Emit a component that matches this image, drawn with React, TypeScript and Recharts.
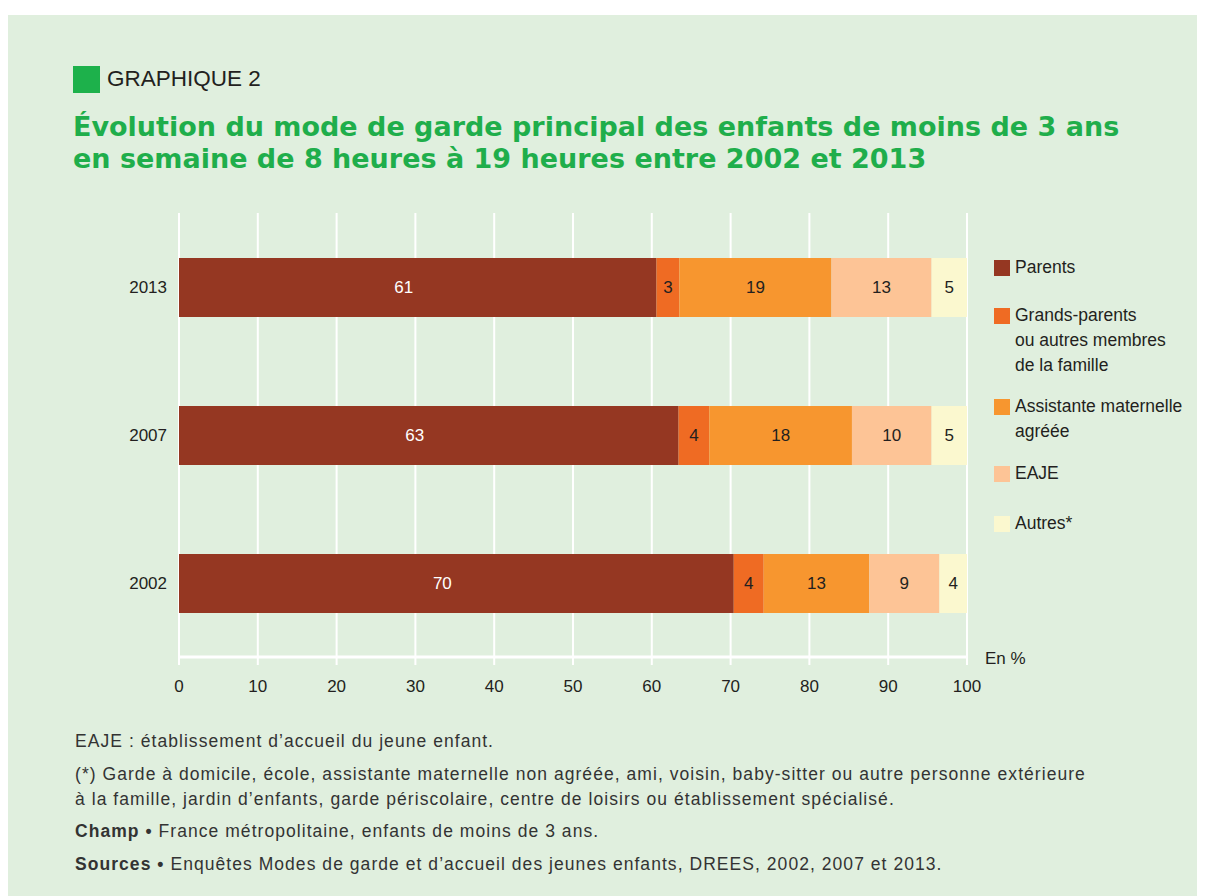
import React from "react"
import {
  BarChart,
  Bar,
  XAxis,
  YAxis,
  CartesianGrid,
  LabelList,
  ReferenceLine,
} from "recharts"

const years = ["2013", "2007", "2002"]
const parents = [60.6, 63.4, 70.4]
const grandsParents = [2.9, 3.9, 3.8]
const assistante = [19.3, 18.1, 13.4]
const eaje = [12.7, 10.1, 8.9]
const autres = [4.5, 4.5, 3.5]
const xTicks = [0, 10, 20, 30, 40, 50, 60, 70, 80, 90, 100]
const edgeTicks = [0, 1, 2, 3]

const series = [
  { key: "parents", lines: ["Parents"], color: "#953722", text: "#ffffff", shift: -14, values: parents },
  { key: "grands", lines: ["Grands-parents", "ou autres membres", "de la famille"], color: "#ef6b23", text: "#231f20", shift: 0, values: grandsParents },
  { key: "assistante", lines: ["Assistante maternelle", "agréée"], color: "#f7962f", text: "#231f20", shift: 0, values: assistante },
  { key: "eaje", lines: ["EAJE"], color: "#fdc496", text: "#231f20", shift: 0, values: eaje },
  { key: "autres", lines: ["Autres*"], color: "#fbf8cf", text: "#231f20", shift: 0, values: autres },
]

const data = years.map((year, i) => {
  const row: Record<string, any> = { year }
  series.forEach((s) => (row[s.key] = s.values[i]))
  return row
})

const font = "'Liberation Sans', Arial, sans-serif"
const dark = "#231f20"
const green = "#1fae4b"

const makeLabel = (fill: string, shift: number) => (props: any) => {
  const vb = props.viewBox ?? props
  const x = Number(vb.x)
  const y = Number(vb.y)
  const w = Number(vb.width)
  const h = Number(vb.height)
  return (
    <text
      x={x + w / 2 + shift}
      y={y + h / 2}
      fill={fill}
      fontSize={17}
      fontFamily={font}
      textAnchor="middle"
      dominantBaseline="central"
    >
      {Math.round(Number(props.value))}
    </text>
  )
}

// legend rows: top of the square, line height 25
const legendTops = [245, 293, 384, 451, 501]

export default function App() {
  return (
    <div style={{ paddingTop: 7 }}>
      <style>{"html,body{overflow:hidden}"}</style>
      <div
        style={{
          position: "relative",
          width: 1197,
          height: 881,
          background: "#e0efde",
          fontFamily: font,
          color: dark,
        }}
      >
        <div style={{ position: "absolute", left: 65, top: 51, width: 27, height: 27, background: "#1db14b" }} />
        <div style={{ position: "absolute", left: 99, top: 49, fontSize: 22.5, lineHeight: "30px" }}>
          GRAPHIQUE 2
        </div>
        <div
          style={{
            position: "absolute",
            left: 65,
            top: 96,
            fontFamily: "'DejaVu Sans', sans-serif",
            fontWeight: "bold",
            fontSize: 27,
            lineHeight: "32px",
            color: green,
            whiteSpace: "nowrap",
          }}
        >
          Évolution du mode de garde principal des enfants de moins de 3 ans
          <br />
          en semaine de 8 heures à 19 heures entre 2002 et 2013
        </div>

        <div style={{ position: "absolute", left: 0, top: 0 }}>
          <BarChart
            width={1197}
            height={700}
            data={data}
            layout="vertical"
            margin={{ top: 198, right: 238, bottom: 28, left: 111 }}
          >
            <CartesianGrid vertical horizontal={false} stroke="#ffffff" strokeWidth={2} yAxisId="cat" />
            <XAxis
              type="number"
              domain={[0, 100]}
              ticks={xTicks}
              interval={0}
              height={30}
              axisLine={{ stroke: "#ffffff", strokeWidth: 3 }}
              tickLine={{ stroke: "#ffffff", strokeWidth: 2 }}
              tickSize={8}
              tickMargin={15}
              tick={{ fill: dark, fontSize: 17, fontFamily: font }}
            />
            <YAxis
              yAxisId="edges"
              type="number"
              domain={[0, 3]}
              ticks={edgeTicks}
              width={0}
              tick={false}
              tickSize={7}
              tickLine={{ stroke: "#ffffff", strokeWidth: 2 }}
              axisLine={{ stroke: "#ffffff", strokeWidth: 3 }}
            />
            <YAxis
              yAxisId="cat"
              type="category"
              dataKey="year"
              width={60}
              axisLine={false}
              tickLine={false}
              tickSize={6}
              tickMargin={6}
              tick={{ fill: dark, fontSize: 17, fontFamily: font }}
            />
            <ReferenceLine yAxisId="edges" y={3} stroke="#ffffff" strokeWidth={3} />
            {series.map((s) => (
              <Bar
                key={s.key}
                dataKey={s.key}
                yAxisId="cat"
                stackId="a"
                fill={s.color}
                barSize={59}
                isAnimationActive={false}
              >
                <LabelList dataKey={s.key} content={makeLabel(s.text, s.shift)} />
              </Bar>
            ))}
          </BarChart>
        </div>

        <div style={{ position: "absolute", left: 977, top: 633, fontSize: 17, lineHeight: "22px" }}>En %</div>

        {series.map((s, i) => (
          <div key={s.key} style={{ position: "absolute", left: 986, top: legendTops[i] }}>
            <div style={{ position: "absolute", left: 0, top: 0, width: 16, height: 16, background: s.color }} />
            <div style={{ position: "absolute", left: 21, top: -5, fontSize: 17.5, lineHeight: "25px", whiteSpace: "nowrap" }}>
              {s.lines.map((l) => (
                <div key={l}>{l}</div>
              ))}
            </div>
          </div>
        ))}

        <div
          style={{
            position: "absolute",
            left: 67,
            top: 714,
            fontSize: 17.5,
            letterSpacing: 1.05,
            lineHeight: "25px",
            color: "#333",
            whiteSpace: "nowrap",
          }}
        >
          <div>EAJE : établissement d’accueil du jeune enfant.</div>
          <div style={{ marginTop: 8 }}>
            (*) Garde à domicile, école, assistante maternelle non agréée, ami, voisin, baby-sitter ou autre personne extérieure
            <br />à la famille, jardin d’enfants, garde périscolaire, centre de loisirs ou établissement spécialisé.
          </div>
          <div style={{ marginTop: 7 }}>
            <b>Champ •</b> France métropolitaine, enfants de moins de 3 ans.
          </div>
          <div style={{ marginTop: 8 }}>
            <b>Sources •</b> Enquêtes Modes de garde et d’accueil des jeunes enfants, DREES, 2002, 2007 et 2013.
          </div>
        </div>
      </div>
    </div>
  )
}
